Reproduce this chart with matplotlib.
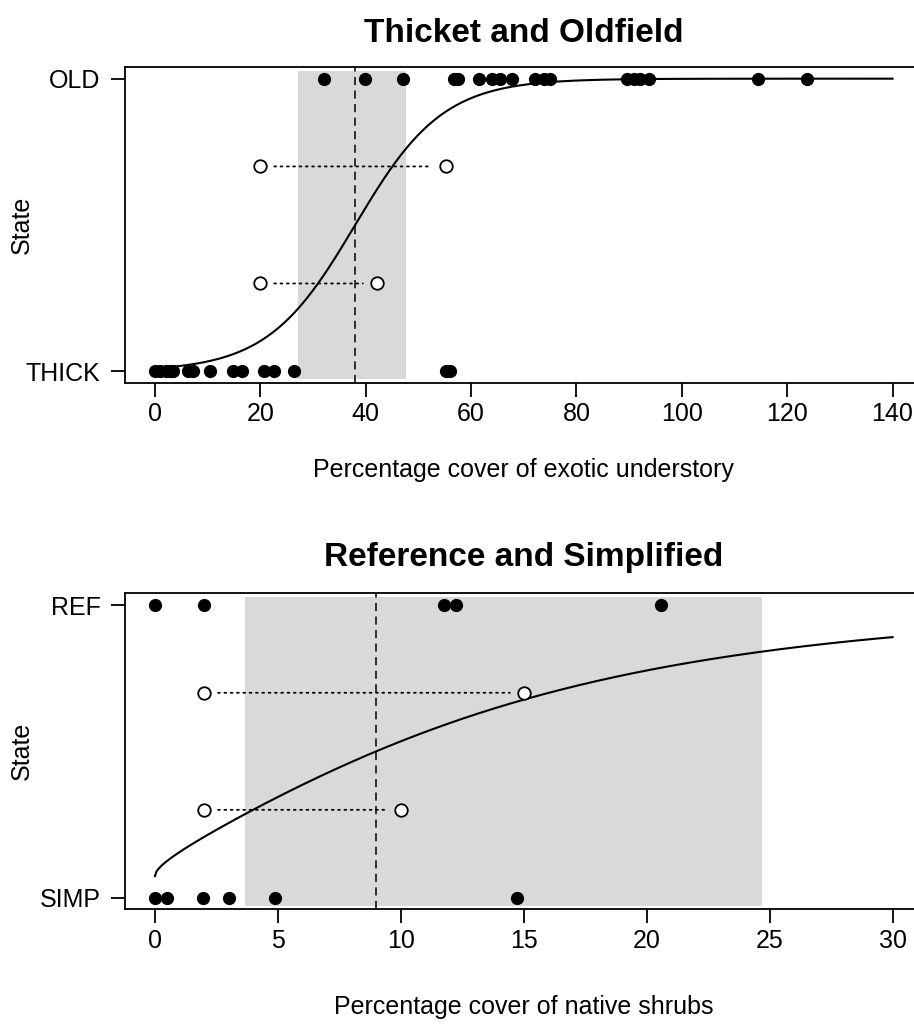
import numpy as np
import matplotlib
matplotlib.use("Agg")
import matplotlib.pyplot as plt
from matplotlib.patches import Rectangle

plt.rcParams['font.family'] = ['Liberation Sans', 'DejaVu Sans']

# ---------------- data: Thicket and Oldfield ----------------
top_title = "Thicket and Oldfield"
top_xlabel = "Percentage cover of exotic understory"
top_ylabels = ["THICK", "OLD"]
top_thick_x = [0.0, 1.0, 2.0, 2.9, 3.5, 6.3, 7.2, 10.4, 14.8, 16.5, 20.6, 22.6, 26.4, 55.3, 56.0]
top_old_x = [32.0, 39.9, 47.0, 56.8, 57.6, 61.5, 64.0, 65.5, 67.7, 72.2, 73.8, 75.0,
             89.6, 90.9, 92.1, 93.7, 114.4, 123.8]
top_pair_y = [0.7, 0.3]
top_pair_from = [20.0, 20.0]
top_pair_to = [55.2, 42.1]
top_threshold = 38.0
top_band = [27.2, 47.7]
top_coef = [-4.56, 0.12]          # logistic intercept, slope (linear in x)
top_curve_range = [0, 140]
top_xticks = [0, 20, 40, 60, 80, 100, 120, 140]

# ---------------- data: Reference and Simplified ----------------
bot_title = "Reference and Simplified"
bot_xlabel = "Percentage cover of native shrubs"
bot_ylabels = ["SIMP", "REF"]
bot_simp_x = [0.0, 0.5, 1.96, 3.0, 4.9, 14.73]
bot_ref_x = [0.0, 2.0, 11.76, 12.26, 20.6]
bot_pair_y = [0.7, 0.3]
bot_pair_from = [2.0, 2.0]
bot_pair_to = [15.0, 10.0]
bot_threshold = 9.0
bot_band = [3.66, 24.7]
bot_coef = [-2.535, 0.845]        # logistic intercept, slope (in sqrt(x))
bot_curve_range = [0, 30]
bot_xticks = [0, 5, 10, 15, 20, 25, 30]

FS = 18
TFS = 24

fig = plt.figure(figsize=(9.14, 10.27), dpi=100)


def panel(rect, title, xlabel, ylabels, x0s, x1s, pair_y, pf, pt, thr, band,
          curve_x, curve_y, xticks, xmax, xlab_y, title_pad):
    ax = fig.add_axes(rect)
    ext = 0.04 * xmax
    ax.set_xlim(-ext, xmax + ext)
    ax.set_ylim(-0.04, 1.04)
    ax.add_patch(Rectangle((band[0], -0.027), band[1] - band[0], 1.053,
                           facecolor="#d9d9d9", edgecolor="none", zorder=1))
    ax.axvline(thr, color="#222222", lw=1.3, ls=(0, (4.5, 3)), zorder=2)
    ax.plot(curve_x, curve_y, color="black", lw=1.5, zorder=3)
    ax.plot(x0s, np.zeros(len(x0s)), "o", color="black", ms=8.5, zorder=4)
    ax.plot(x1s, np.ones(len(x1s)), "o", color="black", ms=8.5, zorder=4)
    ax.plot(pf + pt, pair_y + pair_y, "o", mfc="white", mec="black", mew=1.3,
            ms=9, zorder=4, ls="none")
    for y, a, b in zip(pair_y, pf, pt):
        ax.annotate("", xy=(b, y), xytext=(a, y),
                    arrowprops=dict(arrowstyle="-", ls=(0, (1, 2.5)), lw=1.3,
                                    color="black", shrinkA=10, shrinkB=10),
                    zorder=3)
    ax.set_xticks(xticks)
    ax.set_xticklabels([str(t) for t in xticks], fontsize=FS)
    ax.set_yticks([0, 1])
    ax.set_yticklabels(ylabels, fontsize=FS)
    ax.tick_params(direction="out", length=10, width=1.3)
    ax.tick_params(axis="x", pad=4)
    ax.tick_params(axis="y", pad=8)
    for s in ax.spines.values():
        s.set_linewidth(1.3)
    ax.set_xlabel(xlabel, fontsize=FS)
    ax.xaxis.set_label_coords(0.5, xlab_y)
    ax.set_ylabel("State", fontsize=FS)
    ax.yaxis.set_label_coords(-0.115, 0.5)
    ax.set_title(title, fontsize=TFS, fontweight="bold", pad=title_pad)
    return ax


tx = np.linspace(top_curve_range[0], top_curve_range[1], 400)
ty = 1 / (1 + np.exp(-(top_coef[0] + top_coef[1] * tx)))
panel([0.1373, 0.6271, 0.8715, 0.3077], top_title, top_xlabel, top_ylabels,
      top_thick_x, top_old_x, top_pair_y, top_pair_from, top_pair_to,
      top_threshold, top_band, tx, ty, top_xticks, 140, -0.237, 18)

bx = np.linspace(bot_curve_range[0], bot_curve_range[1], 600)
by = 1 / (1 + np.exp(-(bot_coef[0] + bot_coef[1] * np.sqrt(bx))))
panel([0.1373, 0.1146, 0.8715, 0.3077], bot_title, bot_xlabel, bot_ylabels,
      bot_simp_x, bot_ref_x, bot_pair_y, bot_pair_from, bot_pair_to,
      bot_threshold, bot_band, bx, by, bot_xticks, 30, -0.271, 20)

fig.savefig("out.png", dpi=100)
